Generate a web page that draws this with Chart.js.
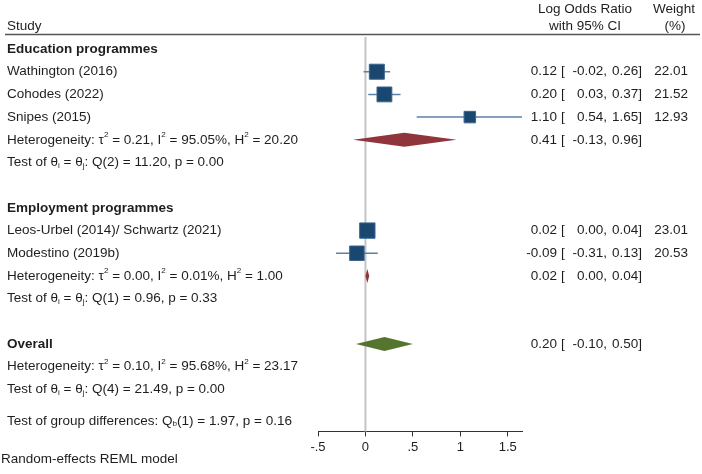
<!DOCTYPE html>
<html>
<head>
<meta charset="utf-8">
<script src="https://cdn.jsdelivr.net/npm/chart.js@4/dist/chart.umd.min.js"></script>
<style>
  html, body { margin: 0; padding: 0; background: #fff; }
  #wrap { width: 702px; height: 474px; position: relative; }
</style>
</head>
<body>
<div id="wrap"><canvas id="forest"></canvas></div>
<script>
// ---- data ----
var studies = ["Wathington (2016)", "Cohodes (2022)", "Snipes (2015)", "Leos-Urbel (2014)/ Schwartz (2021)", "Modestino (2019b)"];
var studyRows = [1, 2, 3, 8, 9];
var est = [0.12, 0.20, 1.10, 0.02, -0.09];
var lo = [-0.02, 0.03, 0.54, 0.00, -0.31];
var hi = [0.26, 0.37, 1.65, 0.04, 0.13];
var weight = [22.01, 21.52, 12.93, 23.01, 20.53];

var groups = ["Education programmes", "Employment programmes"];
var groupRows = [0, 7];
var groupHetRows = [4, 10];
var groupEst = [0.41, 0.02];
var groupLo = [-0.13, 0.00];
var groupHi = [0.96, 0.04];
var groupTau2 = [0.21, 0.00];
var groupI2 = [95.05, 0.01];
var groupH2 = [20.20, 1.00];
var groupDf = [2, 1];
var groupQ = [11.20, 0.96];
var groupP = [0.00, 0.33];

var overallRow = 13;
var overallEst = 0.20, overallLo = -0.10, overallHi = 0.50;
var overallTau2 = 0.10, overallI2 = 95.68, overallH2 = 23.17;
var overallDf = 4, overallQ = 21.49, overallP = 0.00;
var diffDf = 1, diffQ = 1.97, diffP = 0.16;

var tickValues = [-0.5, 0, 0.5, 1, 1.5];
var tickLabels = ["-.5", "0", ".5", "1", "1.5"];

// ---- styles ----
var FONT = '"Liberation Sans", Arial, sans-serif';
var TXT = '#1e1e1e';
var NAVY = '#1a476f';
var CI = '#5a82a8';
var MAROON = '#90353b';
var GREEN = '#55752f';

function f2(v) { return v.toFixed(2); }

// draws text with ^{sup} and _{sub}
function drawRich(ctx, str, x, y, size, bold) {
  var parts = str.split(/(\^\{[^}]*\}|_\{[^}]*\})/);
  ctx.textBaseline = 'middle';
  ctx.textAlign = 'left';
  parts.forEach(function(p) {
    if (!p) return;
    var dy = 0, s = size, t = p;
    if (p.indexOf('^{') === 0) { t = p.slice(2, -1); s = size * 0.6; dy = -5; }
    else if (p.indexOf('_{') === 0) { t = p.slice(2, -1); s = size * 0.6; dy = 3; }
    ctx.font = (bold ? 'bold ' : '') + s + 'px ' + FONT;
    ctx.fillText(t, x, y + dy);
    x += ctx.measureText(t).width;
  });
}

function drawCI(ctx, y, e, l, h, size) {
  ctx.font = size + 'px ' + FONT;
  ctx.textBaseline = 'middle';
  ctx.textAlign = 'right';
  ctx.fillText(f2(e), 557, y);
  ctx.textAlign = 'left';
  ctx.fillText('[', 561, y);
  ctx.textAlign = 'right';
  ctx.fillText(f2(l) + ',', 607, y);
  ctx.fillText(f2(h) + ']', 642, y);
}

var forestPlugin = {
  id: 'forest',
  beforeDatasetsDraw: function(chart) {
    var ctx = chart.ctx, xs = chart.scales.x, a = chart.chartArea;
    var x0 = xs.getPixelForValue(0);
    ctx.save();
    ctx.strokeStyle = '#c4c4c4';
    ctx.lineWidth = 2;
    ctx.beginPath();
    ctx.moveTo(x0, a.top);
    ctx.lineTo(x0, a.bottom);
    ctx.stroke();
    ctx.restore();
  },
  afterDatasetsDraw: function(chart) {
    var ctx = chart.ctx, xs = chart.scales.x, ys = chart.scales.y;
    var size = 13.5;
    ctx.save();

    function diamond(row, e, l, h, color) {
      var y = ys.getPixelForValue(row);
      ctx.fillStyle = color;
      ctx.beginPath();
      ctx.moveTo(xs.getPixelForValue(l), y);
      ctx.lineTo(xs.getPixelForValue(e), y - 7);
      ctx.lineTo(xs.getPixelForValue(h), y);
      ctx.lineTo(xs.getPixelForValue(e), y + 7);
      ctx.closePath();
      ctx.fill();
    }

    for (var g = 0; g < groups.length; g++) {
      diamond(groupHetRows[g], groupEst[g], groupLo[g], groupHi[g], MAROON);
    }
    diamond(overallRow, overallEst, overallLo, overallHi, GREEN);

    ctx.fillStyle = TXT;
    // header
    var yA = ys.getPixelForValue(-1.75), yB = ys.getPixelForValue(-1.0);
    drawRich(ctx, 'Study', 7, yB, size, false);
    ctx.font = size + 'px ' + FONT;
    ctx.textAlign = 'center';
    ctx.textBaseline = 'middle';
    ctx.fillText('Log Odds Ratio', 585, yA);
    ctx.fillText('with 95% CI', 585, yB);
    ctx.fillText('Weight', 674, yA);
    ctx.fillText('(%)', 675, yB);
    var yl = ys.getPixelForValue(-0.64);
    ctx.strokeStyle = '#555';
    ctx.lineWidth = 1.5;
    ctx.beginPath();
    ctx.moveTo(5, yl);
    ctx.lineTo(700, yl);
    ctx.stroke();

    // studies
    for (var i = 0; i < studies.length; i++) {
      var y = ys.getPixelForValue(studyRows[i]);
      drawRich(ctx, studies[i], 7, y, size, false);
      drawCI(ctx, y, est[i], lo[i], hi[i], size);
      ctx.textAlign = 'right';
      ctx.fillText(f2(weight[i]), 688, y);
    }

    // groups
    for (g = 0; g < groups.length; g++) {
      drawRich(ctx, groups[g], 7, ys.getPixelForValue(groupRows[g]), size, true);
      var yh = ys.getPixelForValue(groupHetRows[g]);
      drawRich(ctx, 'Heterogeneity: \u03c4^{2} = ' + f2(groupTau2[g]) + ', I^{2} = ' + f2(groupI2[g]) + '%, H^{2} = ' + f2(groupH2[g]), 7, yh, size, false);
      drawCI(ctx, yh, groupEst[g], groupLo[g], groupHi[g], size);
      drawRich(ctx, 'Test of \u03b8_{i} = \u03b8_{j}: Q(' + groupDf[g] + ') = ' + f2(groupQ[g]) + ', p = ' + f2(groupP[g]), 7, ys.getPixelForValue(groupHetRows[g] + 1), size, false);
    }

    // overall
    var yo = ys.getPixelForValue(overallRow);
    drawRich(ctx, 'Overall', 7, yo, size, true);
    drawCI(ctx, yo, overallEst, overallLo, overallHi, size);
    drawRich(ctx, 'Heterogeneity: \u03c4^{2} = ' + f2(overallTau2) + ', I^{2} = ' + f2(overallI2) + '%, H^{2} = ' + f2(overallH2), 7, ys.getPixelForValue(overallRow + 1), size, false);
    drawRich(ctx, 'Test of \u03b8_{i} = \u03b8_{j}: Q(' + overallDf + ') = ' + f2(overallQ) + ', p = ' + f2(overallP), 7, ys.getPixelForValue(overallRow + 2), size, false);
    drawRich(ctx, 'Test of group differences: Q_{b}(' + diffDf + ') = ' + f2(diffQ) + ', p = ' + f2(diffP), 7, ys.getPixelForValue(overallRow + 3.4), size, false);

    drawRich(ctx, 'Random-effects REML model', 1, chart.height - 15, size, false);
    ctx.restore();
  }
};

// CI segments, one dataset each
var datasets = studies.map(function(s, i) {
  return {
    type: 'line',
    label: s + ' CI',
    data: [{ x: lo[i], y: studyRows[i] }, { x: hi[i], y: studyRows[i] }],
    borderColor: CI,
    borderWidth: 1.5,
    pointRadius: 0,
    fill: false,
    order: 2
  };
});
datasets.push({
  type: 'scatter',
  label: 'Estimates',
  data: studies.map(function(s, i) { return { x: est[i], y: studyRows[i] }; }),
  pointStyle: 'rect',
  pointRadius: weight.map(function(w) { return Math.sqrt(w) * 3.2 / Math.SQRT2; }),
  backgroundColor: NAVY,
  borderColor: '#3a6690',
  borderWidth: 1,
  order: 1
});

new Chart(document.getElementById('forest'), {
  type: 'scatter',
  data: { datasets: datasets },
  options: {
    responsive: true,
    maintainAspectRatio: false,
    animation: false,
    layout: { padding: { left: 318, right: 180, top: 37, bottom: 16 } },
    plugins: {
      legend: { display: false },
      tooltip: { enabled: false }
    },
    scales: {
      x: {
        type: 'linear',
        min: -0.5,
        max: 1.65,
        afterBuildTicks: function(scale) {
          scale.ticks = tickValues.map(function(v) { return { value: v }; });
        },
        ticks: {
          color: TXT,
          font: { family: FONT, size: 13 },
          padding: 3,
          maxRotation: 0,
          callback: function(v, i) { return tickLabels[i]; }
        },
        grid: { drawOnChartArea: false, drawTicks: true, tickLength: 5, color: '#333' },
        border: { display: true, color: '#333', width: 1 }
      },
      y: {
        type: 'linear',
        reverse: true,
        min: -0.53,
        max: 16.85,
        display: false
      }
    }
  },
  plugins: [forestPlugin]
});
</script>
</body>
</html>
